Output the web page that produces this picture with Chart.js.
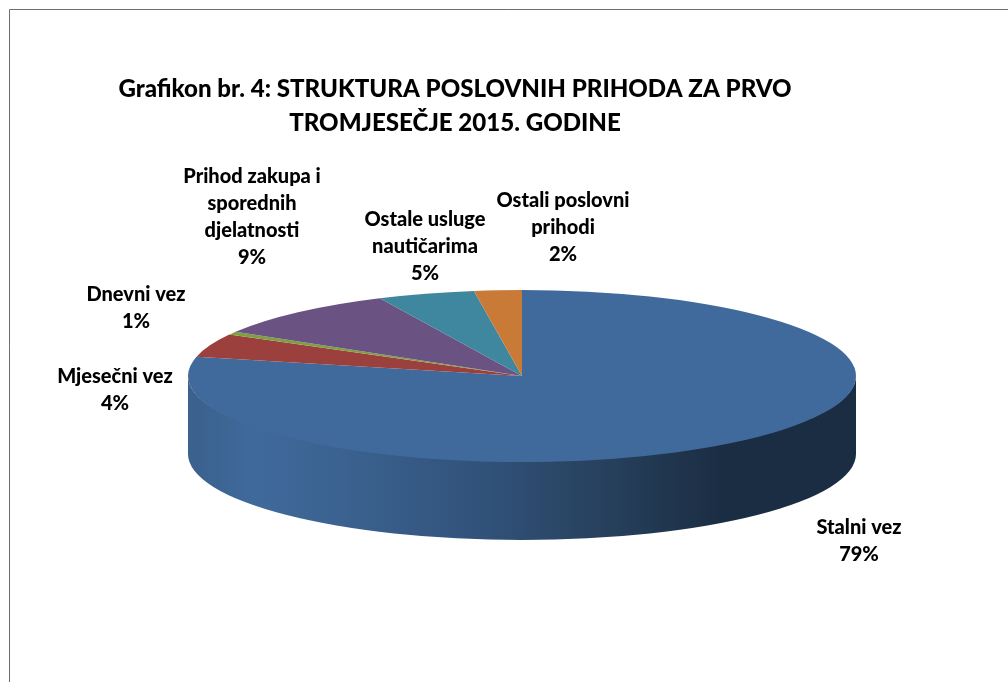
<!DOCTYPE html>
<html>
<head>
<meta charset="utf-8">
<style>
html, body { margin: 0; padding: 0; background: #fff; }
canvas { display: block; }
</style>
<script src="https://cdn.jsdelivr.net/npm/chart.js@4"></script>
</head>
<body>
<canvas id="pieChart" width="1008" height="682"></canvas>
<script>
const titleLines = ['Grafikon br. 4: STRUKTURA POSLOVNIH PRIHODA ZA PRVO', 'TROMJESEČJE 2015. GODINE'];
const categories = [
  ['Stalni vez'],
  ['Mjesečni vez'],
  ['Dnevni vez'],
  ['Prihod zakupa i', 'sporednih', 'djelatnosti'],
  ['Ostale usluge', 'nautičarima'],
  ['Ostali poslovni', 'prihodi']
];
const shares = [78.6, 4.4, 0.6, 9.4, 4.7, 2.3];
const sliceColors = ['#416a9c', '#9c403e', '#7f9f42', '#6a5283', '#3f879f', '#ca7a37'];

// where the flattened pie sits on the page
const pie = { x: 522, y: 376, rx: 334, ry: 86, depth: 78 };
// label anchors: centre x, middle of first line
const labelAnchors = [[859, 528], [115, 377], [136, 295], [252, 177], [425, 220], [563, 201]];
const labelLine = 26.8;

function flatten(ctx, el) {
  ctx.translate(pie.x, pie.y);
  ctx.scale(pie.rx / el.outerRadius, pie.ry / el.outerRadius);
  ctx.translate(-el.x, -el.y);
}

const framePlugin = {
  id: 'frame',
  beforeDraw(chart) {
    const ctx = chart.ctx;
    ctx.save();
    ctx.strokeStyle = '#6e6e6e';
    ctx.lineWidth = 1;
    ctx.beginPath();
    ctx.moveTo(9.5, 682);
    ctx.lineTo(9.5, 9.5);
    ctx.lineTo(1008, 9.5);
    ctx.stroke();
    ctx.restore();
  }
};

const pie3dPlugin = {
  id: 'pie3d',
  beforeDatasetsDraw(chart) {
    const ctx = chart.ctx;
    const arcs = chart.getDatasetMeta(0).data;
    // side wall, only the front half of the rim shows
    ctx.save();
    const side = ctx.createLinearGradient(pie.x - pie.rx, 0, pie.x + pie.rx, 0);
    side.addColorStop(0, '#3b618d');
    side.addColorStop(0.1, '#3f6a9b');
    side.addColorStop(0.23, '#3b6290');
    side.addColorStop(0.44, '#31527a');
    side.addColorStop(0.59, '#294462');
    side.addColorStop(0.71, '#213750');
    side.addColorStop(0.8, '#1b2d43');
    side.addColorStop(1, '#1b2d43');
    arcs.forEach(el => {
      const a = Math.max(el.startAngle, 0);
      const b = Math.min(el.endAngle, Math.PI);
      if (b <= a) return;
      ctx.beginPath();
      // upper edge tucked just under the top face so no seam shows
      ctx.ellipse(pie.x, pie.y, pie.rx, pie.ry - 1.5, 0, a, b);
      ctx.ellipse(pie.x, pie.y + pie.depth, pie.rx, pie.ry, 0, b, a, true);
      ctx.closePath();
      ctx.fillStyle = side;
      ctx.fill();
    });
    ctx.restore();
    ctx.save();
    flatten(ctx, arcs[0]);
  },
  afterDatasetsDraw(chart) {
    const ctx = chart.ctx;
    ctx.restore();
    ctx.save();
    ctx.fillStyle = '#000';
    ctx.font = '900 20px Lato';
    ctx.textAlign = 'center';
    ctx.textBaseline = 'middle';
    categories.forEach((lines, i) => {
      const rows = lines.concat(Math.round(shares[i]) + '%');
      rows.forEach((row, r) => {
        ctx.fillText(row, labelAnchors[i][0], labelAnchors[i][1] + r * labelLine);
      });
    });
    ctx.restore();
  }
};

new Chart(document.getElementById('pieChart').getContext('2d'), {
  type: 'pie',
  data: {
    labels: categories,
    datasets: [{
      data: shares,
      backgroundColor: sliceColors,
      borderWidth: 0
    }]
  },
  options: {
    responsive: false,
    animation: false,
    layout: { padding: { right: 98 } },
    plugins: {
      legend: { display: false },
      tooltip: { enabled: false },
      title: {
        display: true,
        text: titleLines,
        color: '#000',
        font: { family: 'Lato', size: 24.1, weight: '900', lineHeight: 1.42 },
        padding: { top: 72, bottom: 10 }
      }
    }
  },
  plugins: [framePlugin, pie3dPlugin]
});
</script>
</body>
</html>
